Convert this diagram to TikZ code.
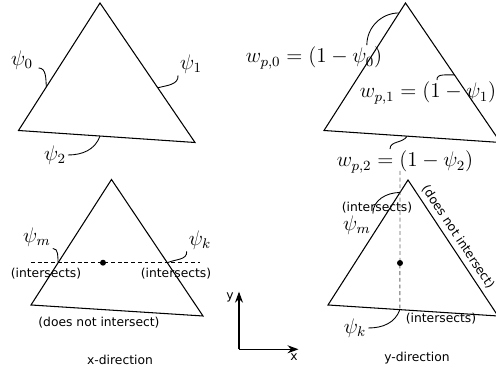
\documentclass[tikz,border=0pt]{standalone}
\usepackage{fontspec}
\usepackage{amsmath}
\usetikzlibrary{arrows.meta,calc,positioning}
\newfontfamily\labelfont{DejaVu Sans}

\begin{document}
\begin{tikzpicture}[
  tri/.style={draw,line width=0.6pt,line join=miter},
  lbl/.style={font=\large,inner sep=1pt},
  txt/.style={font=\labelfont\scriptsize,inner sep=1pt},
  lead/.style={line width=0.5pt},
  cut/.style={line width=0.5pt,dash pattern=on 2.2pt off 1.6pt},
  dot/.style={circle,fill,inner sep=0pt,minimum size=3.4pt},
  ax/.style={-{Stealth[length=2.2mm,width=1.6mm]},line width=0.6pt}
]
  \useasboundingbox (0,0) rectangle (9.92,7.34);

  % element with its basis functions
  \coordinate (a1) at (2.00,7.28);
  \coordinate (b1) at (0.37,4.73);
  \coordinate (c1) at (3.90,4.49);
  \draw[tri] (a1) -- (b1) -- (c1) -- cycle;
  \coordinate (e10) at ($(a1)!0.658!(b1)$);
  \coordinate (e11) at ($(a1)!0.608!(c1)$);
  \coordinate (e12) at ($(b1)!0.462!(c1)$);
  \node[lbl] (psi0) at (0.44,6.14) {$\psi_0$};
  \node[lbl] (psi1) at (3.82,6.06) {$\psi_1$};
  \node[lbl] (psi2) at (1.10,4.24) {$\psi_2$};
  \draw[lead] ([xshift=2pt,yshift=2pt]psi0.south east) to[out=0,in=95] (e10);
  \draw[lead] (psi1.south west) to[out=-85,in=15] (e11);
  \draw[lead] (psi2.east) to[out=0,in=-110] (e12);

  % weights
  \coordinate (a2) at (8.11,7.28);
  \coordinate (b2) at (6.48,4.73);
  \coordinate (c2) at (10.01,4.49);
  \draw[tri] (a2) -- (b2) -- (c2) -- cycle;
  \coordinate (e20) at ($(a2)!0.078!(b2)$);
  \coordinate (e21) at ($(a2)!0.515!(c2)$);
  \coordinate (e22) at ($(b2)!0.471!(c2)$);
  \node[lbl] (w0) at (6.28,6.18) {$w_{p,0} = (1-\psi_0)$};
  \node[lbl] (w1) at (8.56,5.48) {$w_{p,1} = (1-\psi_1)$};
  \node[lbl] (w2) at (8.10,4.10) {$w_{p,2} = (1-\psi_2)$};
  \draw[lead] ([xshift=-0.35cm]w0.north east) to[out=90,in=180] (e20);
  \draw[lead] ([xshift=0.18cm]w1.north) to[out=95,in=185] (e21);
  \draw[lead] ([xshift=-0.3cm]w2.north) to[out=90,in=-120] (e22);

  % x-direction
  \coordinate (a3) at (2.23,3.75);
  \coordinate (b3) at (0.62,1.24);
  \coordinate (c3) at (4.06,1.02);
  \draw[tri] (a3) -- (b3) -- (c3) -- cycle;
  \coordinate (m3) at ($(a3)!0.663!(b3)$);
  \coordinate (k3) at ($(a3)!0.61!(c3)$);
  \coordinate (l3) at (0.62,2.086);
  \coordinate (r3) at (4.00,2.086);
  \draw[cut] (l3) -- (r3);
  \node[dot] (pt3) at (2.06,2.086) {};
  \node[lbl] (psim3) at (0.74,2.60) {$\psi_m$};
  \node[lbl] (psik3) at (4.00,2.54) {$\psi_k$};
  \draw[lead] (psim3.south east) to[out=0,in=95] (m3);
  \draw[lead] (psik3.south west) to[out=-85,in=25] (k3);
  \node[txt] (int3l) at (0.92,1.86) {(intersects)};
  \node[txt] (int3r) at (3.52,1.86) {(intersects)};
  \node[txt] (non3) at (1.98,0.88) {(does not intersect)};
  \node[txt] (xdir) at (2.40,0.14) {x-direction};

  % axes
  \coordinate (o) at (4.78,0.354);
  \coordinate (xt) at (5.97,0.354);
  \coordinate (yt) at (4.78,1.506);
  \draw[ax] (o) -- (xt);
  \draw[ax] (o) -- (yt);
  \node[txt] (xlab) at (5.88,0.19) {x};
  \node[txt] (ylab) at (4.60,1.40) {y};

  % y-direction
  \coordinate (a4) at (8.16,3.74);
  \coordinate (b4) at (6.56,1.24);
  \coordinate (c4) at (9.96,1.02);
  \draw[tri] (a4) -- (b4) -- (c4) -- cycle;
  \coordinate (m4) at ($(a4)!0.1!(b4)$);
  \coordinate (k4) at ($(b4)!0.423!(c4)$);
  \coordinate (t4) at (8.00,3.92);
  \draw[cut,gray!80!black] (t4) -- (k4);
  \node[dot] (pt4) at (8.00,2.08) {};
  \node[lbl] (psim4) at (7.14,2.84) {$\psi_m$};
  \node[lbl] (psik4) at (7.10,0.78) {$\psi_k$};
  \draw[lead] (psim4.north east) to[out=90,in=180] (m4);
  \draw[lead] (psik4.east) to[out=0,in=-110] (k4);
  \node[txt] (int4t) at (7.54,3.18) {(intersects)};
  \node[txt] (int4b) at (8.82,0.96) {(intersects)};
  \node[txt,rotate=-56.5] (non4) at (9.16,2.60) {(does not intersect)};
  \node[txt] (ydir) at (8.34,0.18) {y-direction};
\end{tikzpicture}
\end{document}
